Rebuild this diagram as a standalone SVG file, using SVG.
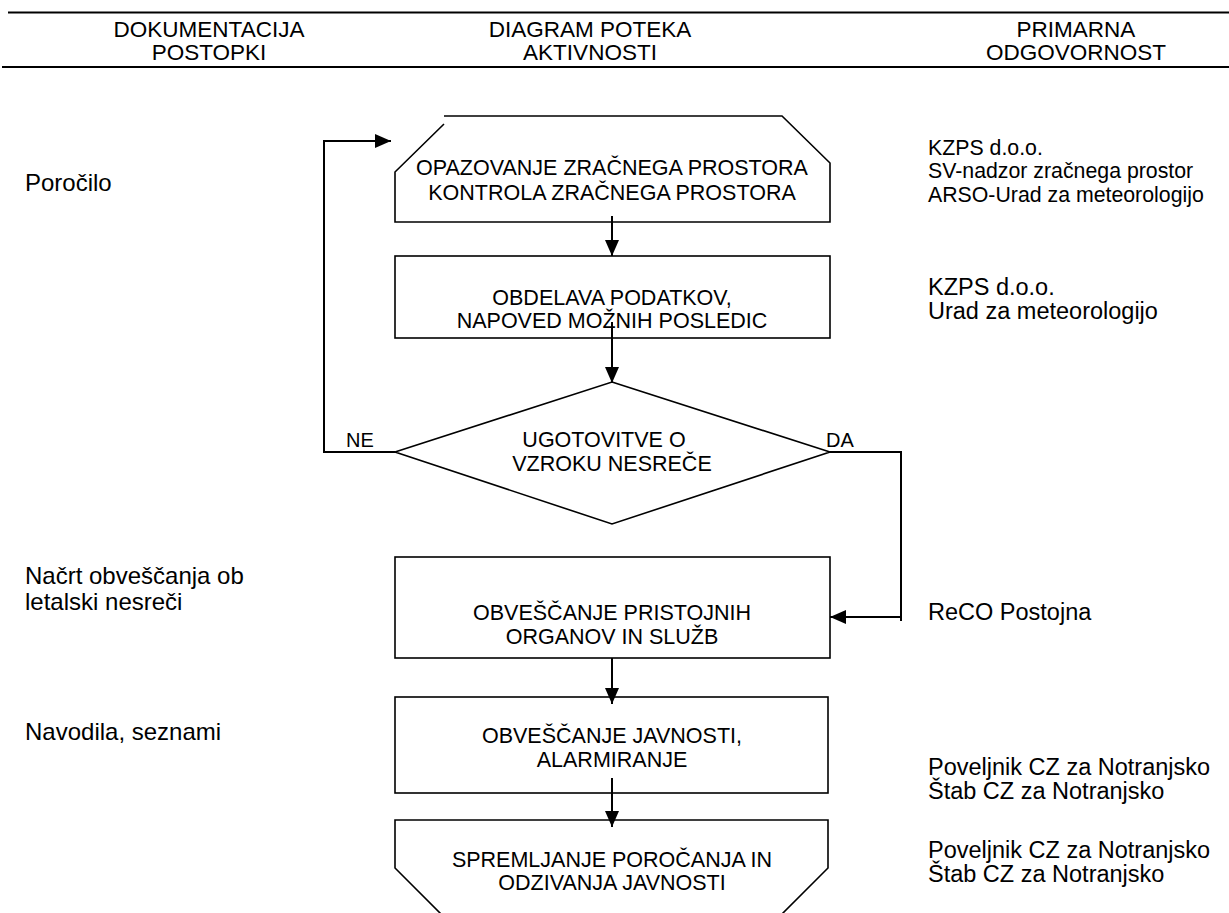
<svg xmlns="http://www.w3.org/2000/svg" width="1229" height="913" viewBox="0 0 1229 913">
<style>
text{font-family:"Liberation Sans",Arial,sans-serif;fill:#000}
.h{font-size:22.5px;text-anchor:middle}
.t{font-size:21.5px;text-anchor:middle}
.l{font-size:24px}
.r1{font-size:21.3px}
.r2{font-size:23.5px}
.lbl{font-size:20px}
.shape{fill:none;stroke:#000;stroke-width:1.6}
.conn{fill:none;stroke:#000;stroke-width:2}
</style>
<defs>
<marker id="ah" markerWidth="16" markerHeight="14" refX="16" refY="7" orient="auto" markerUnits="userSpaceOnUse">
<path d="M0,0 L16,7 L0,14 Z" fill="#000"/>
</marker>
</defs>
<rect width="1229" height="913" fill="#fff"/>
<g id="header">
<line x1="8" y1="12.5" x2="1229" y2="12.5" stroke="#000" stroke-width="2"/>
<line x1="2" y1="67" x2="1229" y2="67" stroke="#000" stroke-width="2"/>
<text class="h" x="209" y="37">DOKUMENTACIJA</text>
<text class="h" x="209" y="60">POSTOPKI</text>
<text class="h" x="590" y="37">DIAGRAM POTEKA</text>
<text class="h" x="590" y="60">AKTIVNOSTI</text>
<text class="h" x="1076" y="37">PRIMARNA</text>
<text class="h" x="1076" y="60">ODGOVORNOST</text>
</g>
<g id="left-docs">
<text class="l" x="25" y="191">Poročilo</text>
<text class="l" x="25" y="584">Načrt obveščanja ob</text>
<text class="l" x="25" y="610">letalski nesreči</text>
<text class="l" x="25" y="740">Navodila, seznami</text>
</g>
<g id="right-resp">
<text class="r1" x="928" y="155">KZPS d.o.o.</text>
<text class="r1" x="928" y="178">SV-nadzor zračnega prostor</text>
<text class="r1" x="928" y="202">ARSO-Urad za meteorologijo</text>
<text class="r2" x="928" y="295">KZPS d.o.o.</text>
<text class="r2" x="928" y="319">Urad za meteorologijo</text>
<text class="r2" x="928" y="620">ReCO Postojna</text>
<text class="r2" x="928" y="775">Poveljnik CZ za Notranjsko</text>
<text class="r2" x="928" y="799">Štab CZ za Notranjsko</text>
<text class="r2" x="928" y="858">Poveljnik CZ za Notranjsko</text>
<text class="r2" x="928" y="882">Štab CZ za Notranjsko</text>
</g>
<g id="connectors">
<line class="conn" x1="612" y1="216" x2="612" y2="256" marker-end="url(#ah)"/>
<line class="conn" x1="612" y1="322" x2="612" y2="383" marker-end="url(#ah)"/>
<polyline class="conn" points="395,452 324,452 324,141 391,141" marker-end="url(#ah)"/>
<polyline class="conn" points="830,452 901,452 901,621"/>
<line class="conn" x1="901" y1="617" x2="830" y2="617" marker-end="url(#ah)"/>
<line class="conn" x1="612" y1="658" x2="612" y2="704" marker-end="url(#ah)"/>
<line class="conn" x1="612" y1="778" x2="612" y2="827" marker-end="url(#ah)"/>
<text class="lbl" x="346" y="447">NE</text>
<text class="lbl" x="826" y="447">DA</text>
</g>
<g id="n1">
<path class="shape" d="M444,116 L782,116 L830,163 L830,222 L395,222 L395,172 L444,124"/>
<text class="t" x="612" y="175">OPAZOVANJE ZRAČNEGA PROSTORA</text>
<text class="t" x="612" y="200">KONTROLA ZRAČNEGA PROSTORA</text>
</g>
<g id="n2">
<rect class="shape" x="395" y="256" width="435" height="82"/>
<text class="t" x="612" y="305">OBDELAVA PODATKOV,</text>
<text class="t" x="612" y="328">NAPOVED MOŽNIH POSLEDIC</text>
</g>
<g id="n3">
<polygon class="shape" points="612,382 830,452 612,524 395,452"/>
<text class="t" x="604" y="447">UGOTOVITVE O</text>
<text class="t" x="612" y="471">VZROKU NESREČE</text>
</g>
<g id="n4">
<rect class="shape" x="395" y="557" width="435" height="101"/>
<text class="t" x="612" y="620">OBVEŠČANJE PRISTOJNIH</text>
<text class="t" x="612" y="644">ORGANOV IN SLUŽB</text>
</g>
<g id="n5">
<rect class="shape" x="395" y="697" width="433" height="96"/>
<text class="t" x="612" y="743">OBVEŠČANJE JAVNOSTI,</text>
<text class="t" x="612" y="767">ALARMIRANJE</text>
</g>
<g id="n6">
<path class="shape" d="M442,915 L395,868 L395,820 L828,820 L828,868 L781,915"/>
<text class="t" x="612" y="867">SPREMLJANJE POROČANJA IN</text>
<text class="t" x="612" y="890">ODZIVANJA JAVNOSTI</text>
</g>
</svg>
